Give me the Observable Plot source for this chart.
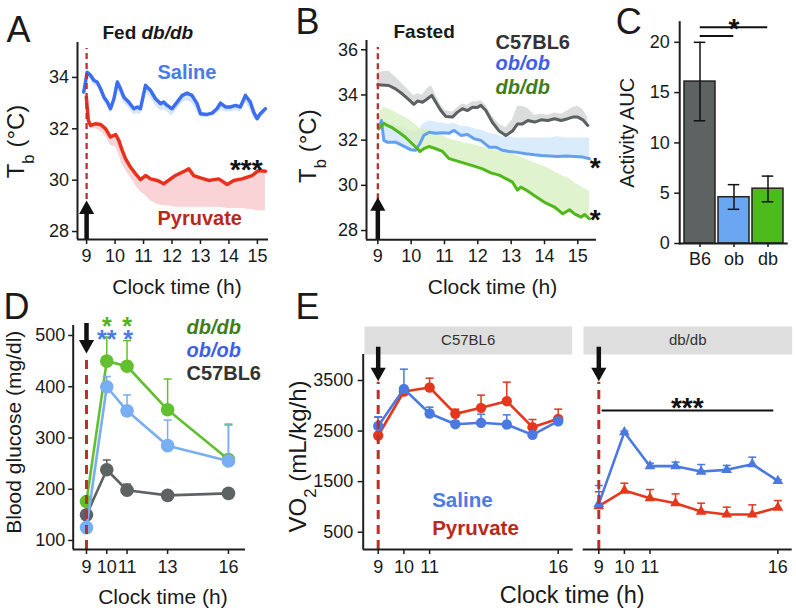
<!DOCTYPE html>
<html><head><meta charset="utf-8">
<script src="https://cdn.jsdelivr.net/npm/d3@7"></script>
<script src="https://cdn.jsdelivr.net/npm/@observablehq/plot@0.6"></script>
<style>
body{margin:0;background:#fff;}
#fig{position:relative;width:796px;height:611px;overflow:hidden;background:#fff;}
</style></head><body><div id="fig"></div>
<script>
// ---------------- DATA ----------------
// Panel A (Fed db/db): [clock time h, mean Tb °C, lower edge of SEM band]
const aSaline = [[8.9,33.43,33.3],[9.02,34.2,34.0],[9.14,34.08,33.9],[9.26,33.88,33.7],[9.37,33.82,33.65],[9.49,33.56,33.4],[9.61,33.23,33.05],[9.73,33.04,32.85],[9.84,32.78,32.6],[9.96,33.17,32.95],[10.08,33.82,33.55],[10.19,33.56,33.3],[10.31,33.23,33.0],[10.48,33.04,32.8],[10.66,32.78,32.55],[10.78,32.85,32.6],[10.89,32.78,32.55],[11.07,33.69,33.4],[11.25,33.49,33.2],[11.42,33.17,32.9],[11.6,32.98,32.7],[11.71,33.04,32.75],[11.83,32.91,32.65],[12.0,32.78,32.5],[12.18,33.04,32.75],[12.36,33.3,33.0],[12.53,33.39,33.1],[12.7,33.3,33.0],[12.88,32.98,32.7],[13.0,32.59,32.45],[13.23,32.56,32.45],[13.41,32.61,32.5],[13.58,32.78,32.6],[13.7,33.0,32.75],[13.88,32.85,32.65],[14.05,32.85,32.65],[14.23,32.91,32.7],[14.4,32.85,32.65],[14.58,33.3,33.0],[14.75,33.04,32.75],[14.87,32.65,32.4],[14.99,32.39,32.3],[15.1,32.59,32.4],[15.28,32.78,32.6]];
const aPyruvate = [[8.99,33.23,33.1],[9.06,32.33,32.2],[9.14,32.13,32.0],[9.32,32.2,32.0],[9.49,32.17,31.9],[9.67,32.0,31.7],[9.84,31.68,31.35],[10.02,31.78,31.3],[10.13,31.55,31.0],[10.25,31.16,30.6],[10.37,30.83,30.4],[10.54,30.51,30.1],[10.72,30.25,29.8],[10.89,30.02,29.55],[11.07,30.18,29.4],[11.25,30.05,29.2],[11.48,29.99,29.05],[11.71,29.86,29.0],[11.95,30.05,28.98],[12.12,30.18,28.95],[12.36,30.31,28.95],[12.59,30.44,28.95],[12.76,30.18,28.95],[13.0,30.09,28.95],[13.29,29.99,28.95],[13.64,30.05,28.95],[13.94,29.83,28.9],[14.17,29.99,28.9],[14.46,30.05,28.9],[14.81,30.18,28.85],[15.05,30.38,28.8],[15.28,30.35,28.8]];
// Panel B (Fasted): [clock time h, mean Tb °C, upper edge of SEM band]
const bC57 = [[9.0,34.45,35.0],[9.33,34.42,35.05],[9.53,34.27,34.8],[9.73,34.05,34.5],[9.93,33.79,34.2],[10.08,33.58,33.95],[10.19,33.73,34.05],[10.34,33.68,34.0],[10.49,33.83,34.3],[10.62,33.98,34.4],[10.74,33.68,34.0],[10.89,33.31,33.55],[11.04,33.05,33.3],[11.24,33.02,33.25],[11.39,33.24,33.45],[11.54,33.39,33.6],[11.69,33.31,33.55],[11.84,33.46,33.7],[11.99,33.45,33.7],[12.09,33.54,33.75],[12.24,33.31,33.55],[12.44,32.78,33.05],[12.64,32.4,32.7],[12.84,32.21,32.55],[13.04,32.4,32.9],[13.19,32.72,33.5],[13.34,32.72,33.5],[13.5,32.87,33.4],[13.7,32.8,33.1],[13.9,32.9,33.15],[14.1,32.87,33.1],[14.3,32.95,33.2],[14.5,32.87,33.15],[14.7,32.95,33.3],[14.85,33.02,33.45],[15.0,33.02,33.5],[15.15,32.9,33.35],[15.3,32.65,33.0]];
const bOb = [[9.03,32.5,32.6],[9.11,32.87,32.95],[9.18,31.99,32.8],[9.28,31.91,32.75],[9.53,31.91,32.65],[9.73,31.77,32.55],[9.98,31.58,32.4],[10.13,31.55,32.35],[10.26,31.84,32.5],[10.38,32.21,32.75],[10.54,32.35,32.85],[10.74,32.31,32.8],[10.94,32.33,32.75],[11.14,32.31,32.7],[11.29,32.43,32.75],[11.49,32.21,32.6],[11.69,32.25,32.6],[11.89,32.06,32.5],[12.09,31.99,32.45],[12.34,31.69,32.3],[12.54,31.69,32.25],[12.74,31.55,32.15],[12.94,31.5,32.15],[13.14,31.47,32.1],[13.44,31.4,32.1],[13.7,31.35,32.1],[13.9,31.32,32.1],[14.15,31.3,32.1],[14.4,31.28,32.15],[14.65,31.3,32.1],[14.9,31.28,32.1],[15.15,31.25,32.1],[15.35,31.18,32.1]];
const bDb = [[9.03,32.5,33.2],[9.18,32.75,33.45],[9.28,32.65,33.4],[9.43,32.55,33.3],[9.63,32.35,33.15],[9.83,32.13,33.0],[10.03,31.84,32.8],[10.19,31.62,32.6],[10.26,31.5,32.5],[10.38,31.62,32.5],[10.54,31.72,32.45],[10.74,31.62,32.35],[10.94,31.5,32.2],[11.14,31.18,32.05],[11.39,31.07,31.95],[11.64,30.96,31.85],[11.89,30.85,31.8],[12.14,30.73,31.7],[12.39,30.55,31.6],[12.64,30.45,31.5],[12.84,30.3,31.45],[13.04,30.14,31.4],[13.19,29.79,31.3],[13.29,29.92,31.25],[13.44,29.8,31.15],[13.69,29.55,31.0],[13.99,29.26,30.85],[14.3,29.04,30.6],[14.55,28.74,30.4],[14.75,28.92,30.3],[14.9,28.74,30.1],[15.1,28.59,29.95],[15.2,28.71,29.85],[15.35,28.52,29.75]];
// Panel C (Activity AUC)
const cGroups = ["B6", "ob", "db"];
const cMean = [16.1, 4.6, 5.45];
const cLow = [12.2, 3.4, 4.15];
const cHigh = [20.0, 5.85, 6.7];
// Panel D (Blood glucose, mg/dl), upper SEM end
const dTimes = [9, 10, 11, 13, 16];
const dDb = [176, 450, 440, 355, 258];
const dDbUp = [null, 497, 490, 415, 327];
const dOb = [125, 400, 353, 285, 255];
const dObUp = [null, 420, 384, 335, 325];
const dC57 = [150, 238, 198, 188, 192];
const dC57Up = [null, 257, 210, null, null];
// Panel E (VO2, mL/kg/h), upper SEM end
const eTimes = [9, 10, 11, 12, 13, 14, 15, 16];
const eC57Saline = [2600, 3335, 2847, 2636, 2663, 2630, 2425, 2695];
const eC57SalineUp = [2780, 3724, 2973, 2700, 2834, 2820, 2480, 2760];
const eC57Pyruvate = [2412, 3282, 3361, 2840, 2959, 3091, 2577, 2742];
const eC57PyruvateUp = [2775, 3300, 3546, 2933, 3210, 3467, 2729, 2933];
const eDbSaline = [1060, 2478, 1806, 1806, 1700, 1733, 1845, 1515];
const eDbSalineUp = [1423, 2500, 1865, 1885, 1838, 1820, 1984, 1540];
const eDbPyruvate = [1014, 1324, 1172, 1074, 909, 850, 850, 988];
const eDbPyruvateUp = [1300, 1469, 1344, 1258, 1074, 995, 1041, 1126];
// Tick values
const aTicksX = [9, 10, 11, 12, 13, 14, 15];
const aTicksY = [28, 30, 32, 34];
const bTicksY = [28, 30, 32, 34, 36];
const cTicksY = [0, 5, 10, 15, 20];
const dTicksX = [9, 10, 11, 13, 16];
const dTicksY = [100, 200, 300, 400, 500];
const eTicksX = [9, 10, 11, 16];
const eTicksY = [500, 1500, 2500, 3500];

// ---------------- HELPERS ----------------
const fig = document.getElementById("fig");
const STYLE = 'font-family: "Liberation Sans", Arial, Helvetica, sans-serif; background: transparent; overflow: visible; color: #1a1a1a; max-width: none;';
const INK = "#1e1e1e", DASH = "#b8322a";
const CAP = {draw(ctx, size) { const w = Math.sqrt(size / Math.PI); ctx.moveTo(-w, 0); ctx.lineTo(w, 0); }};
const TRI_UP = {draw(ctx, size) { const r = Math.sqrt(size / Math.PI), w = 1.35 * r, h = 2.4 * r; ctx.moveTo(0, 0); ctx.lineTo(w, h); ctx.lineTo(-w, h); ctx.closePath(); }};
const TRI_DOWN = {draw(ctx, size) { const r = Math.sqrt(size / Math.PI), w = 1.35 * r, h = 2.4 * r; ctx.moveTo(0, 0); ctx.lineTo(w, -h); ctx.lineTo(-w, -h); ctx.closePath(); }};
const SUBS = {
  "Tb (°C)": [["T"], ["b", 1], [" (°C)"]],
  "VO2 (mL/kg/h)": [["VO"], ["2", 1], [" (mL/kg/h)"]]
};
function richText(svg) {
  svg.querySelectorAll("text").forEach(t => {
    const parts = SUBS[t.textContent];
    if (!parts) return;
    t.textContent = "";
    for (const [s, sub] of parts) {
      const ts = document.createElementNS("http://www.w3.org/2000/svg", "tspan");
      ts.textContent = s;
      if (sub) { ts.setAttribute("baseline-shift", "sub"); ts.setAttribute("font-size", "70%"); }
      t.append(ts);
    }
  });
}
function place(svg, left, top) {
  svg.style.position = "absolute"; svg.style.left = left + "px"; svg.style.top = top + "px";
  richText(svg); fig.append(svg);
}
const tri = a => a.map(([t, v, b]) => ({t, v, b}));
const ser = (times, vals, ups) => times.map((t, i) => ({t, v: vals[i], up: ups[i]}));
const ax = {tickSize: 5, fontSize: 18, strokeWidth: 1.5, label: null, tickFormat: d3.format("d")};
function injection(o) {
  return [
    Plot.ruleX([9], {y1: o.dash[0], y2: o.dash[1], stroke: DASH, strokeWidth: o.dw, strokeDasharray: o.da}),
    Plot.ruleX([9], {y1: o.shaft[0], y2: o.shaft[1], stroke: "#111", strokeWidth: 4.5}),
    Plot.dot([9], {x: d => d, y: () => o.tip, symbol: o.up ? TRI_UP : TRI_DOWN, r: 5.6, fill: "#111", stroke: "none"})
  ];
}
function seriesMarks(rows, color, r, symbol, sw) {
  const err = rows.filter(d => d.up != null && d.up > d.v);
  return [
    Plot.line(rows, {x: "t", y: "v", stroke: color, strokeWidth: sw}),
    Plot.ruleX(err, {x: "t", y1: "v", y2: "up", stroke: color, strokeWidth: 1.5}),
    Plot.dot(err, {x: "t", y: "up", symbol: CAP, r: 4, fill: "none", stroke: color, strokeWidth: 1.5}),
    Plot.dot(rows, {x: "t", y: "v", r, symbol, fill: color, stroke: "none"})
  ];
}
const starDy = fs => 0.255 * fs;
const label = (txt, o) => Plot.text([txt], {text: d => d, textAnchor: "middle", lineAnchor: "middle", ...o});

// ---------------- PANEL A ----------------
const A_S = tri(aSaline), A_P = tri(aPyruvate);
place(Plot.plot({
  width: 290, height: 300, marginLeft: 77, marginRight: 22, marginTop: 42, marginBottom: 61, style: STYLE,
  x: {domain: [8.68, 15.39]}, y: {domain: [27.69, 35.36]},
  marks: [
    Plot.areaY(A_S, {x: "t", y1: "b", y2: "v", fill: "#d6e5f8"}),
    Plot.areaY(A_P, {x: "t", y1: "b", y2: "v", fill: "#f9d3d5"}),
    Plot.line(A_S, {x: "t", y: "v", stroke: "#3c6ef0", strokeWidth: 3.5}),
    Plot.line(A_P, {x: "t", y: "v", stroke: "#e8311d", strokeWidth: 3.5}),
    ...injection({dash: [27.69, 35.13], dw: 2.3, da: "6,4", shaft: [27.69, 28.94], tip: 29.21, up: true}),
    Plot.ruleX([8.68], {stroke: INK, strokeWidth: 2}),
    Plot.ruleY([27.69], {stroke: INK, strokeWidth: 2}),
    Plot.axisX({...ax, ticks: aTicksX, tickPadding: 4.5}),
    Plot.axisY({...ax, ticks: aTicksY, tickPadding: 3.5}),
    label("A", {frameAnchor: "top-left", dx: -71, dy: -0.3, fontSize: 36, textAnchor: "start", lineAnchor: "bottom"}),
    label("Fed", {frameAnchor: "top-left", dx: 25, dy: -9.7, fontSize: 19, fontWeight: "bold", textAnchor: "start"}),
    label("db/db", {frameAnchor: "top-left", dx: 64, dy: -9.7, fontSize: 19, fontWeight: "bold", fontStyle: "italic", textAnchor: "start"}),
    label("Saline", {frameAnchor: "top-left", dx: 80, dy: 30, fontSize: 20, fontWeight: "bold", fill: "#4a7be6", textAnchor: "start"}),
    label("Pyruvate", {frameAnchor: "top-left", dx: 80, dy: 176, fontSize: 20, fontWeight: "bold", fill: "#b8291b", textAnchor: "start"}),
    label("***", {x: () => 14.61, y: () => 30.69, fontSize: 28, fontWeight: "bold", dy: starDy(28), fill: "#111"}),
    label("Tb (°C)", {frameAnchor: "left", rotate: -90, dx: -61, dy: 0.5, fontSize: 24}),
    label("Clock time (h)", {frameAnchor: "bottom", dx: 4, dy: 48, fontSize: 21})
  ]
}), 0, 0);

// ---------------- PANEL B ----------------
const B_C = tri(bC57), B_O = tri(bOb), B_D = tri(bDb);
place(Plot.plot({
  width: 320, height: 300, marginLeft: 76, marginRight: 14, marginTop: 40, marginBottom: 60.7, style: STYLE,
  x: {domain: [8.66, 15.56]}, y: {domain: [27.59, 36.41]},
  marks: [
    Plot.areaY(B_C, {x: "t", y1: "v", y2: "b", fill: "#d2d4d4", fillOpacity: 0.8}),
    Plot.areaY(B_O, {x: "t", y1: "v", y2: "b", fill: "#cde4fb", fillOpacity: 0.75}),
    Plot.areaY(B_D, {x: "t", y1: "v", y2: "b", fill: "#d4efbe", fillOpacity: 0.75}),
    Plot.line(B_C, {x: "t", y: "v", stroke: "#5b6060", strokeWidth: 3}),
    Plot.line(B_O, {x: "t", y: "v", stroke: "#63a1ef", strokeWidth: 3}),
    Plot.line(B_D, {x: "t", y: "v", stroke: "#50b81c", strokeWidth: 3}),
    ...injection({dash: [27.59, 36.1], dw: 2.3, da: "6,4", shaft: [27.59, 29.165], tip: 29.475, up: true}),
    Plot.ruleX([8.66], {stroke: INK, strokeWidth: 2}),
    Plot.ruleY([27.59], {stroke: INK, strokeWidth: 2}),
    Plot.axisX({...ax, ticks: aTicksX, tickPadding: 4.5}),
    Plot.axisY({...ax, ticks: bTicksY, tickPadding: 3.5}),
    label("B", {frameAnchor: "top-left", dx: -71, dy: -6.7, fontSize: 36, textAnchor: "start", lineAnchor: "bottom"}),
    label("Fasted", {frameAnchor: "top-left", dx: 27, dy: -8.3, fontSize: 19, fontWeight: "bold", textAnchor: "start"}),
    label("C57BL6", {frameAnchor: "top-left", dx: 129, dy: 1.7, fontSize: 20, fontWeight: "bold", fill: "#333", textAnchor: "start"}),
    label("ob/ob", {frameAnchor: "top-left", dx: 129, dy: 23, fontSize: 20, fontWeight: "bold", fontStyle: "italic", fill: "#3f5fe8", textAnchor: "start"}),
    label("db/db", {frameAnchor: "top-left", dx: 129, dy: 46.7, fontSize: 20, fontWeight: "bold", fontStyle: "italic", fill: "#3f7d1b", textAnchor: "start"}),
    label("*", {x: () => 15.52, y: () => 31.1, fontSize: 28, fontWeight: "bold", dy: starDy(28), fill: "#111"}),
    label("*", {x: () => 15.52, y: () => 28.8, fontSize: 28, fontWeight: "bold", dy: starDy(28), fill: "#111"}),
    label("Tb (°C)", {frameAnchor: "left", rotate: -90, dx: -58, dy: 6, fontSize: 24}),
    label("Clock time (h)", {frameAnchor: "bottom", dx: 11, dy: 47.4, fontSize: 21})
  ]
}), 290, 0);

// ---------------- PANEL C ----------------
const cRows = cGroups.map((g, i) => ({g, m: cMean[i], lo: cLow[i], hi: cHigh[i]}));
const cSig = [{from: "B6", to: "db", y: 21.5}, {from: "B6", to: "ob", y: 20.63}];
place(Plot.plot({
  width: 186, height: 300, marginLeft: 69.2, marginRight: 8.3, marginTop: 21.7, marginBottom: 57, style: STYLE,
  x: {type: "band", domain: cGroups, padding: 0.1}, y: {domain: [0, 22]},
  color: {domain: cGroups, range: ["#5d6262", "#6aa6f2", "#4cbb1b"]},
  marks: [
    Plot.barY(cRows, {x: "g", y: "m", fill: "g", stroke: "#222", strokeWidth: 1.5}),
    Plot.ruleX(cRows, {x: "g", y1: "lo", y2: "hi", stroke: "#111", strokeWidth: 1.5}),
    Plot.tickY(cRows, {x: "g", y: "lo", insetLeft: 9.75, insetRight: 9.75, stroke: "#111", strokeWidth: 1.5}),
    Plot.tickY(cRows, {x: "g", y: "hi", insetLeft: 9.75, insetRight: 9.75, stroke: "#111", strokeWidth: 1.5}),
    Plot.ruleY(cSig, {y: "y", x1: "from", x2: "to", insetLeft: 15.75, insetRight: 15.75, stroke: "#111", strokeWidth: 2}),
    label("*", {x: () => "ob", y: () => 22.0, fontSize: 28, fontWeight: "bold", dy: starDy(28), fill: "#111"}),
    Plot.frame({anchor: "left", stroke: INK, strokeWidth: 2}),
    Plot.ruleY([0], {stroke: INK, strokeWidth: 2}),
    Plot.axisX({tickSize: 4, tickPadding: 4.8, fontSize: 18, strokeWidth: 1.5, label: null}),
    Plot.axisY({...ax, ticks: cTicksY, tickPadding: 5}),
    label("C", {frameAnchor: "top-left", dx: -64, dy: 11.3, fontSize: 36, textAnchor: "start", lineAnchor: "bottom"}),
    label("Activity AUC", {frameAnchor: "left", rotate: -90, dx: -52.5, dy: 0, fontSize: 20})
  ]
}), 610, 0);

// ---------------- PANEL D ----------------
const D_db = ser(dTimes, dDb, dDbUp), D_ob = ser(dTimes, dOb, dObUp), D_c = ser(dTimes, dC57, dC57Up);
place(Plot.plot({
  width: 290, height: 311, marginLeft: 72.7, marginRight: 45, marginTop: 25, marginBottom: 62, style: STYLE,
  x: {domain: [8.345, 16.84]}, y: {domain: [82.4, 519.5]},
  marks: [
    ...seriesMarks(D_db, "#62c030", 6.8, "circle", 2.6),
    ...seriesMarks(D_c, "#5d6262", 6.8, "circle", 2.6),
    ...seriesMarks(D_ob, "#78aef2", 6.8, "circle", 2.6),
    ...injection({dash: [82.4, 457.7], dw: 3, da: "9,6", shaft: [523.4, 478.5], tip: 464.9, up: false}),
    Plot.ruleX([8.345], {stroke: INK, strokeWidth: 2}),
    Plot.ruleY([82.4], {stroke: INK, strokeWidth: 2}),
    Plot.axisX({...ax, ticks: dTicksX, tickPadding: 6}),
    Plot.axisY({...ax, ticks: dTicksY, tickSize: 4.5, tickPadding: 3.5}),
    label("*", {x: () => 10, y: () => 529.3, fontSize: 25, fontWeight: "bold", dy: starDy(25), fill: "#52b323"}),
    label("*", {x: () => 11, y: () => 529.3, fontSize: 25, fontWeight: "bold", dy: starDy(25), fill: "#52b323"}),
    label("**", {x: () => 10, y: () => 504.5, fontSize: 25, fontWeight: "bold", dy: starDy(25), fill: "#4a7be8"}),
    label("*", {x: () => 11.05, y: () => 504.5, fontSize: 25, fontWeight: "bold", dy: starDy(25), fill: "#4a7be8"}),
    label("D", {frameAnchor: "top-left", dx: -69.7, dy: -6.5, fontSize: 36, textAnchor: "start", lineAnchor: "bottom"}),
    label("db/db", {frameAnchor: "top-left", dx: 113.3, dy: 1.7, fontSize: 20, fontWeight: "bold", fontStyle: "italic", fill: "#3f7d1b", textAnchor: "start"}),
    label("ob/ob", {frameAnchor: "top-left", dx: 113.3, dy: 25, fontSize: 20, fontWeight: "bold", fontStyle: "italic", fill: "#3f5fe8", textAnchor: "start"}),
    label("C57BL6", {frameAnchor: "top-left", dx: 113.3, dy: 48.3, fontSize: 20, fontWeight: "bold", fill: "#333", textAnchor: "start"}),
    label("Blood glucose (mg/dl)", {frameAnchor: "left", rotate: -90, dx: -59.4, dy: -5.3, fontSize: 21}),
    label("Clock time (h)", {frameAnchor: "bottom", dx: 3.6, dy: 47.7, fontSize: 21})
  ]
}), 0, 300);

// ---------------- PANEL E ----------------
const E_cs = ser(eTimes, eC57Saline, eC57SalineUp), E_cp = ser(eTimes, eC57Pyruvate, eC57PyruvateUp);
const E_ds = ser(eTimes, eDbSaline, eDbSalineUp), E_dp = ser(eTimes, eDbPyruvate, eDbPyruvateUp);
const EBLUE = "#4a79e2", ERED = "#e3381e";
const eInj = injection({dash: [158, 3466], dw: 3, da: "9,6", shaft: [4158, 3624], tip: 3486, up: false});
place(Plot.plot({
  width: 290, height: 311, marginLeft: 72.7, marginRight: 7.3, marginTop: 54, marginBottom: 62, style: STYLE,
  x: {domain: [8.417, 16.583]}, y: {domain: [158, 4014]},
  marks: [
    Plot.frame({fill: "#dedede", stroke: "none", insetTop: -28, insetBottom: 195, insetLeft: 1.3, insetRight: 1}),
    label("C57BL6", {frameAnchor: "top", dy: -14, fontSize: 15, fill: "#333"}),
    ...seriesMarks(E_cp, ERED, 5.2, "circle", 2.6),
    ...seriesMarks(E_cs, EBLUE, 5.2, "circle", 2.6),
    ...eInj,
    Plot.ruleX([8.417], {stroke: INK, strokeWidth: 2}),
    Plot.ruleY([158], {stroke: INK, strokeWidth: 2}),
    Plot.axisX({...ax, ticks: eTicksX, tickPadding: 6}),
    Plot.axisY({...ax, ticks: eTicksY, tickPadding: 5}),
    label("E", {frameAnchor: "top-left", dx: -67.7, dy: -35.7, fontSize: 36, textAnchor: "start", lineAnchor: "bottom"}),
    label("Saline", {frameAnchor: "top-left", dx: 69, dy: 146, fontSize: 20.5, fontWeight: "bold", fill: "#4a7be6", textAnchor: "start"}),
    label("Pyruvate", {frameAnchor: "top-left", dx: 69, dy: 174, fontSize: 20.5, fontWeight: "bold", fill: "#b8291b", textAnchor: "start"}),
    label("VO2 (mL/kg/h)", {frameAnchor: "left", rotate: -90, dx: -64.7, dy: 4.5, fontSize: 24}),
    label("Clock time (h)", {frameAnchor: "bottom", dx: 104, dy: 46, fontSize: 23.5})
  ]
}), 290, 300);
place(Plot.plot({
  width: 216, height: 311, marginLeft: 2.7, marginRight: 4.3, marginTop: 54, marginBottom: 62, style: STYLE,
  x: {domain: [8.39, 16.56]}, y: {domain: [158, 4014], axis: null},
  marks: [
    Plot.frame({fill: "#dedede", stroke: "none", insetTop: -28, insetBottom: 195, insetLeft: 0.3, insetRight: 0}),
    label("db/db", {frameAnchor: "top", dy: -14, fontSize: 15, fill: "#333"}),
    ...seriesMarks(E_dp, ERED, 4, "triangle", 2.6),
    ...seriesMarks(E_ds, EBLUE, 4, "triangle", 2.6),
    ...eInj,
    Plot.ruleY([2907], {x1: 9.13, x2: 15.84, stroke: "#111", strokeWidth: 2}),
    label("***", {x: () => 12.46, y: () => 3104, fontSize: 28, fontWeight: "bold", dy: starDy(28), fill: "#111"}),
    Plot.ruleY([158], {stroke: INK, strokeWidth: 2}),
    Plot.axisX({...ax, ticks: eTicksX, tickPadding: 6})
  ]
}), 580, 300);
</script></body></html>
